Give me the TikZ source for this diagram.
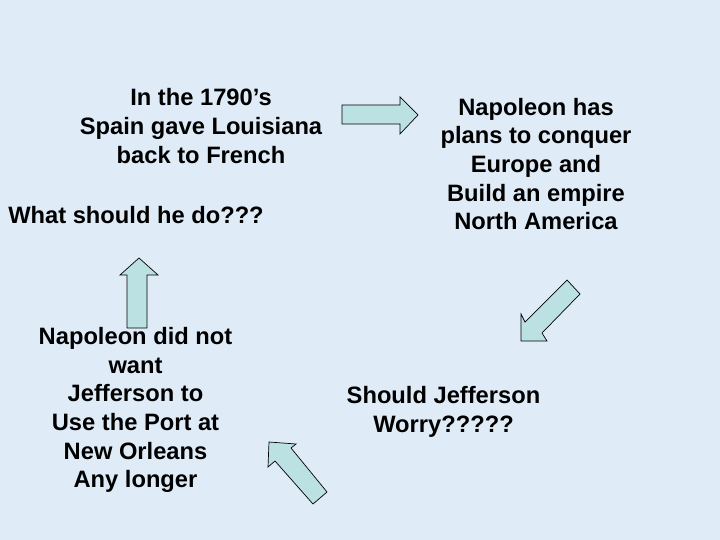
\documentclass[tikz,border=0pt]{standalone}
\usepackage{fontspec}
\setmainfont{Liberation Sans}
\definecolor{bgblue}{RGB}{223,236,248}
\definecolor{arrowfill}{RGB}{188,225,227}
\tikzset{
  txt/.style={align=center, inner sep=0pt, font=\bfseries\fontsize{23.7}{28.7}\selectfont, text=black},
  blockarrow/.style={fill=arrowfill, draw=black, line width=0.7pt, line join=miter}
}
\begin{document}
\begin{tikzpicture}[x=1pt,y=-1pt]
\fill[bgblue] (0,0) rectangle (720,540);
\useasboundingbox (0,0) rectangle (720,540);

\node[txt] (t1) at (201,126) {In the 1790’s\\Spain gave Louisiana\\back to French};
\node[txt] (t1b) at (136,215) {What should he do???};
\node[txt] (t2) at (536,164) {Napoleon has\\plans to conquer\\Europe and\\Build an empire\\North America};
\node[txt] (t3) at (135.5,410) {Napoleon did not\\want\\Jefferson to\\Use the Port at\\New Orleans\\Any longer};
\node[txt] (t4) at (443.5,412) {Should Jefferson\\Worry?????};

% right arrow
\draw[blockarrow] (342,105) -- (400,105) -- (400,97) -- (418,115) -- (400,134) -- (400,124) -- (342,124) -- cycle;
% down-left arrow
\draw[blockarrow] (567,280) -- (580,294) -- (542,333) -- (547,341) -- (521,341) -- (521,314) -- (525,322) -- cycle;
% up-left arrow
\draw[blockarrow] (269,442) -- (296,444) -- (291,448) -- (327,492) -- (313,504) -- (275,461) -- (268,467) -- cycle;
% up arrow
\draw[blockarrow] (139,258) -- (158,275) -- (147,275) -- (147,328) -- (127,328) -- (127,275) -- (120,275) -- cycle;
\end{tikzpicture}
\end{document}
